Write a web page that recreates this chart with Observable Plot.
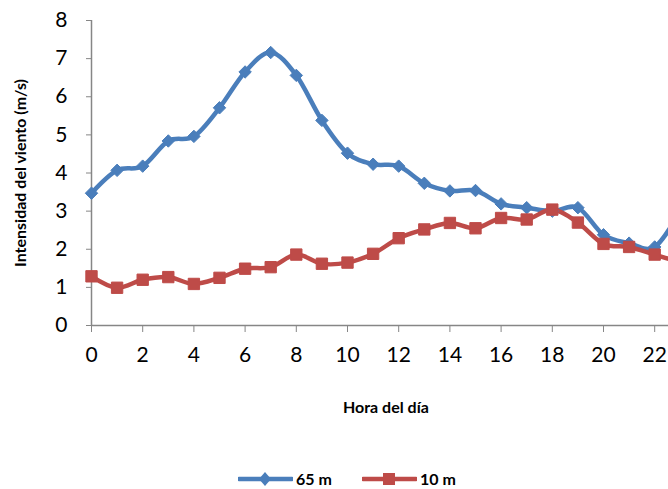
<!DOCTYPE html>
<html>
<head>
<meta charset="utf-8">
<script src="https://cdn.jsdelivr.net/npm/d3@7"></script>
<script src="https://cdn.jsdelivr.net/npm/@observablehq/plot@0.6"></script>
<style>
  html, body { margin: 0; padding: 0; background: #fff; width: 668px; height: 489px; overflow: hidden; }
  #chart { width: 700px; }
  #chart svg { display: block; max-width: none !important; width: 700px !important; height: 455px !important; }
  #legend { position: relative; height: 34px; font-family: Lato, "Open Sans", sans-serif; font-size: 16px; font-weight: bold; color: #000; white-space: nowrap; }
  .item { position: absolute; top: 14px; display: flex; align-items: center; }
  .item svg { display: block; margin-right: 3px; }
</style>
</head>
<body>
<div id="chart"></div>
<div id="legend"></div>
<script>
const hours = d3.range(0, 24);
const series = ["65 m", "10 m"];
const colors = ["#4A7EBB", "#BE4B48"];
const symbols = ["diamond2", "square"];
const v65 = [3.47, 4.07, 4.18, 4.84, 4.96, 5.71, 6.65, 7.16, 6.56, 5.38, 4.52, 4.23, 4.18, 3.73, 3.53, 3.54, 3.19, 3.09, 3.00, 3.09, 2.38, 2.16, 2.06, 3.00];
const v10 = [1.29, 0.99, 1.20, 1.27, 1.09, 1.25, 1.49, 1.53, 1.86, 1.62, 1.65, 1.88, 2.29, 2.52, 2.69, 2.55, 2.82, 2.78, 3.04, 2.70, 2.14, 2.06, 1.86, 1.65];
const xTicks = d3.range(0, 23, 2);
const yTicks = d3.range(0, 9, 1);
const xTitle = "Hora del día";
const yTitle = "Intensidad del viento (m/s)";

const data = [
  ...hours.map((h, i) => ({hour: h, value: v65[i], series: series[0]})),
  ...hours.map((h, i) => ({hour: h, value: v10[i], series: series[1]}))
];

const axisColor = "#868686";
const chart = Plot.plot({
  width: 700,
  height: 455,
  marginLeft: 91,
  marginRight: 20.2,
  marginTop: 20,
  marginBottom: 130,
  style: {fontFamily: "Lato, 'Open Sans', sans-serif", background: "#fff", color: "#000"},
  x: {domain: [0, 23], ticks: xTicks},
  y: {domain: [0, 8], ticks: yTicks},
  color: {domain: series, range: colors},
  symbol: {domain: series, range: symbols},
  marks: [
    Plot.axisY({ticks: yTicks, tickSize: 5, tickPadding: 19, stroke: axisColor, fontSize: 21, label: null, color: "#000"}),
    Plot.axisX({ticks: xTicks, tickSize: 7, tickPadding: 15, stroke: axisColor, fontSize: 21, label: null, color: "#000"}),
    Plot.ruleX([0], {stroke: axisColor, strokeWidth: 1.5}),
    Plot.ruleY([0], {stroke: axisColor, strokeWidth: 1.5}),
    Plot.line(data, {x: "hour", y: "value", z: "series", stroke: "series", strokeWidth: 4.5, curve: "cardinal", tension: 0}),
    Plot.dot(data, {filter: d => d.series === series[0], x: "hour", y: "value", symbol: "series", fill: "series", stroke: "series", r: 5.6, strokeWidth: 1}),
    Plot.dot(data, {filter: d => d.series === series[1], x: "hour", y: "value", symbol: "series", fill: "series", stroke: "series", r: 6.4, strokeWidth: 1}),
    Plot.text([xTitle], {frameAnchor: "bottom", dy: 87, fontSize: 16, fontWeight: "bold", textAnchor: "middle"}),
    Plot.text([yTitle], {frameAnchor: "left", dx: -71, rotate: -90, fontSize: 16, fontWeight: "bold", textAnchor: "middle"})
  ]
});
document.getElementById("chart").appendChild(chart);

// legend
const legend = document.getElementById("legend");
const lefts = [238, 362];
series.forEach((s, i) => {
  const item = document.createElement("div");
  item.className = "item";
  item.style.left = lefts[i] + "px";
  const sym = i === 0
    ? `<path d="M27 2 L33 9 L27 16 L21 9 Z" fill="${colors[i]}"/>`
    : `<rect x="21" y="3" width="12" height="12" fill="${colors[i]}"/>`;
  item.innerHTML = `<svg width="55" height="18"><line x1="1" y1="9" x2="54" y2="9" stroke="${colors[i]}" stroke-width="4.5" stroke-linecap="round"/>${sym}</svg><span>${s}</span>`;
  legend.appendChild(item);
});
</script>
</body>
</html>
